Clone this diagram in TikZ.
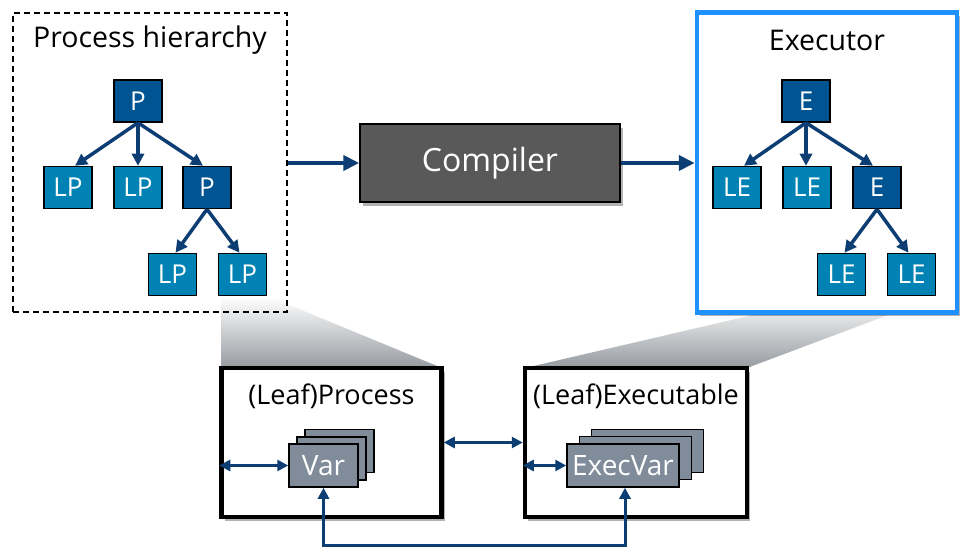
\documentclass[tikz,border=0pt]{standalone}
\usepackage{fontspec}
\setmainfont{Open Sans}
\usetikzlibrary{arrows.meta,shadows,calc}
\definecolor{pdark}{RGB}{0,84,145}
\definecolor{lpc}{RGB}{0,130,180}
\definecolor{arr}{RGB}{12,62,115}
\definecolor{compc}{RGB}{89,89,89}
\definecolor{varc}{RGB}{128,140,153}
\definecolor{exblue}{RGB}{30,144,255}
\definecolor{shadegray}{RGB}{150,155,160}
\tikzset{
  tnode/.style={draw=black, line width=1.5pt, minimum width=48pt, minimum height=42pt, inner sep=0pt, text=white, font=\fontsize{26}{31}\selectfont},
  pnode/.style={tnode, fill=pdark},
  lnode/.style={tnode, fill=lpc},
  treearrow/.style={draw=arr, line width=3.5pt, -{Triangle[length=12pt,width=12pt]}},
  bigarrow/.style={draw=arr, line width=4pt, -{Triangle[length=16pt,width=15pt]}},
  smallarrow/.style={draw=arr, line width=3pt, {Triangle[length=11pt,width=11pt]}-{Triangle[length=11pt,width=11pt]}},
  title/.style={font=\fontsize{28.5}{34}\selectfont, inner sep=0pt},
  subtitle/.style={font=\fontsize{27}{32}\selectfont, inner sep=0pt},
  shadowed/.style={drop shadow={shadow xshift=3pt, shadow yshift=-4pt, opacity=0.3, fill=black}},
  bottombox/.style={draw=black, line width=4.5pt, fill=white, shadowed, inner sep=0pt},
  varbox/.style={draw=black, line width=1.5pt, fill=varc, inner sep=0pt, minimum height=43pt, text=white, font=\fontsize{28}{33}\selectfont},
}
\begin{document}
\begin{tikzpicture}[x=1pt,y=-1pt]
\useasboundingbox (0,0) rectangle (975,553);

% gradient zoom polygons
\shade[top color=white, bottom color=shadegray] (221,297) -- (270,297) -- (442,368) -- (221,368) -- cycle;
\shade[top color=white, bottom color=shadegray] (830,297) -- (936,297) -- (747,368) -- (525,368) -- cycle;

% containers
\node[draw=black, line width=1.5pt, dash pattern=on 6pt off 4pt, minimum width=274pt, minimum height=299pt, inner sep=0pt] (PH) at (150,162.5) {};
\node[draw=exblue, line width=4.5pt, fill=white, shadowed, minimum width=260pt, minimum height=300pt, inner sep=0pt] (EX) at (827,162.5) {};

\node[title] (PHt) at (150,40) {Process hierarchy};
\node[title] (EXt) at (827,40) {Executor};

% process tree
\node[pnode] (P1) at (138,101) {P};
\node[lnode] (LP1) at (68,187.5) {LP};
\node[lnode] (LP2) at (138,187.5) {LP};
\node[pnode] (P2) at (207,187.5) {P};
\node[lnode] (LP3) at (172.5,274.5) {LP};
\node[lnode] (LP4) at (242.5,274.5) {LP};
\draw[treearrow] (P1.south) -- ([xshift=7pt]LP1.north);
\draw[treearrow] (P1.south) -- (LP2.north);
\draw[treearrow] (P1.south) -- ([xshift=-4pt]P2.north);
\draw[treearrow] (P2.south) -- ([xshift=3pt]LP3.north);
\draw[treearrow] (P2.south) -- ([xshift=-3pt]LP4.north);

% executor tree
\node[pnode] (E1) at (806,101) {E};
\node[lnode] (LE1) at (737,187.5) {LE};
\node[lnode] (LE2) at (807,187.5) {LE};
\node[pnode] (E2) at (877,187.5) {E};
\node[lnode] (LE3) at (841.5,274.5) {LE};
\node[lnode] (LE4) at (911.5,274.5) {LE};
\draw[treearrow] (E1.south) -- ([xshift=7pt]LE1.north);
\draw[treearrow] (E1.south) -- ([xshift=-1pt]LE2.north);
\draw[treearrow] (E1.south) -- ([xshift=-4pt]E2.north);
\draw[treearrow] (E2.south) -- ([xshift=3pt]LE3.north);
\draw[treearrow] (E2.south) -- ([xshift=-3pt]LE4.north);

% compiler
\node[draw=black, line width=1.5pt, fill=compc, shadowed, minimum width=260pt, minimum height=78pt, inner sep=0pt, text=white, font=\fontsize{32}{38}\selectfont] (C) at (490,163) {Compiler};
\draw[bigarrow] (PH.east |- C.west) -- (C.west);
\draw[bigarrow] (C.east) -- (EX.west |- C.east);

% bottom boxes
\node[bottombox, minimum width=220pt, minimum height=149pt] (LProc) at (331.5,442.5) {};
\node[bottombox, minimum width=222pt, minimum height=149pt] (LExec) at (636,442.5) {};
\node[subtitle] (LProct) at (331.5,396) {(Leaf)Process};
\node[subtitle] (LExect) at (636,396) {(Leaf)Executable};

% Var stack
\node[varbox, minimum width=69pt] (var3) at (339.5,451) {};
\node[varbox, minimum width=69pt] (var2) at (331.5,458.5) {};
\node[varbox, minimum width=69pt] (var) at (323.5,465.5) {Var};

% ExecVar stack
\node[varbox, minimum width=112pt] (evar3) at (647.5,451) {};
\node[varbox, minimum width=112pt] (evar2) at (635.5,458) {};
\node[varbox, minimum width=112pt] (evar) at (623,465.5) {ExecVar};

% connections
\draw[smallarrow] (var.west -| LProc.west) -- (var.west);
\draw[smallarrow] (LProc.east) -- (LExec.west);
\draw[smallarrow] (evar.west -| LExec.west) -- (evar.west);
\draw[smallarrow] (var.south) |- ($(evar.south)+(2,58)$) -- ([xshift=2pt]evar.south);
\end{tikzpicture}
\end{document}
